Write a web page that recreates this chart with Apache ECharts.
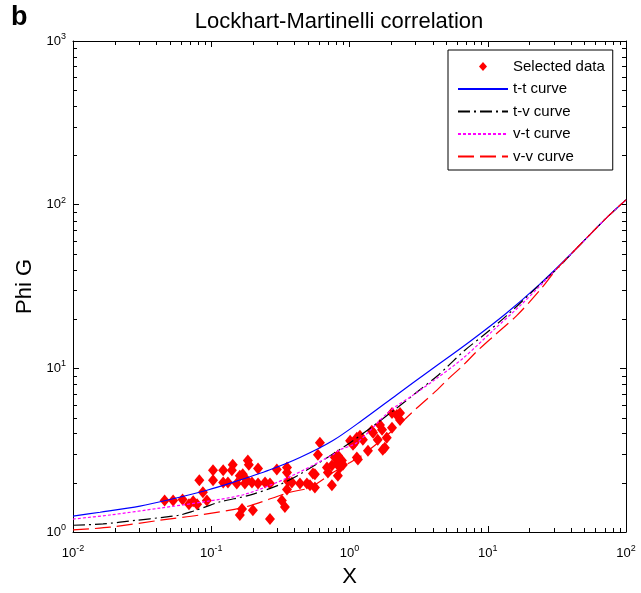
<!DOCTYPE html>
<html>
<head>
<meta charset="utf-8">
<title>Lockhart-Martinelli correlation</title>
<script src="https://cdn.jsdelivr.net/npm/echarts@6/dist/echarts.min.js"></script>
<style>
  html, body { margin: 0; padding: 0; background: #ffffff; }
  #chart { width: 641px; height: 593px; }
</style>
</head>
<body>
<div id="chart"></div>
<script>
// Axis ranges (log scales)
const xRange = [0.01, 100];
const yRange = [1, 1000];

// Measured two-phase points [X, Phi G]
const selectedData = [
  [0.046, 1.56], [0.053, 1.56], [0.062, 1.58], [0.074, 1.54], [0.069, 1.48],
  [0.079, 1.48], [0.082, 2.07], [0.087, 1.75], [0.093, 1.56], [0.103, 2.38],
  [0.103, 2.07], [0.122, 2.38], [0.122, 2.01], [0.143, 2.58], [0.141, 2.38],
  [0.132, 2.01], [0.153, 1.98], [0.169, 2.25], [0.161, 2.21], [0.184, 2.73],
  [0.187, 2.58], [0.175, 1.98], [0.197, 2.01], [0.181, 2.07], [0.218, 2.44],
  [0.218, 1.98], [0.245, 2.01], [0.266, 1.98], [0.298, 2.41], [0.353, 2.48],
  [0.353, 2.31], [0.359, 2.04], [0.383, 2.01], [0.353, 1.82], [0.324, 1.56],
  [0.341, 1.42], [0.167, 1.38], [0.161, 1.27], [0.200, 1.36], [0.266, 1.20],
  [0.438, 1.98], [0.492, 1.98], [0.518, 1.93], [0.562, 1.87], [0.544, 2.28],
  [0.562, 2.25], [0.591, 2.97], [0.611, 3.51], [0.687, 2.48], [0.746, 1.93],
  [0.698, 2.31], [0.746, 2.55], [0.811, 2.62], [0.784, 2.85], [0.824, 2.93],
  [0.881, 2.73], [0.853, 2.48], [0.896, 2.58], [0.824, 2.21], [1.01, 3.61],
  [1.06, 3.41], [1.13, 2.85], [1.19, 3.87], [1.36, 3.14], [1.48, 4.04],
  [1.60, 3.66], [1.72, 4.21], [1.86, 3.76], [1.80, 3.27], [1.45, 4.15],
  [2.03, 4.33], [2.20, 5.19], [2.32, 4.84], [2.32, 5.34], [2.03, 5.34],
  [1.66, 4.51], [1.13, 3.76], [1.25, 3.66], [1.09, 3.51], [1.15, 2.77],
  [1.74, 3.18]
];

// Correlation curves [X, Phi G]
const ttCurve = [
  [0.01, 1.25], [0.0157, 1.32], [0.0305, 1.44], [0.0503, 1.58], [0.0931, 1.80],
  [0.143, 2.01], [0.266, 2.40], [0.438, 2.85], [0.759, 3.62], [1.25, 4.85],
  [2.20, 6.9], [3.82, 9.7], [7.43, 14.6], [13.7, 21.8], [23.8, 32.7],
  [41.2, 51.2], [72.6, 83.4], [100, 107]
];
const tvCurve = [
  [0.01, 1.10], [0.0165, 1.12], [0.029, 1.18], [0.0448, 1.23], [0.0594, 1.27],
  [0.0738, 1.34], [0.09, 1.42], [0.116, 1.53], [0.19, 1.68], [0.314, 1.95],
  [0.46, 2.31], [1.01, 3.51], [2.20, 5.72], [3.23, 7.4], [4.29, 8.95],
  [5.14, 10.3], [6.83, 12.9], [9.22, 15.8], [13.7, 21.0], [23.8, 32.5],
  [33.2, 42.1], [41.2, 51.2], [72.6, 83.4], [100, 107]
];
const vtCurve = [
  [0.01, 1.20], [0.0185, 1.27], [0.0426, 1.40], [0.0931, 1.54], [0.175, 1.70],
  [0.359, 2.15], [0.759, 2.97], [0.853, 3.18], [1.13, 3.51], [1.96, 5.49],
  [2.88, 6.86], [4.29, 8.70], [6.61, 11.5], [10.9, 17.0], [17.1, 24.1],
  [23.8, 31.8], [41.2, 51.2], [72.6, 83.4], [100, 107]
];
const vvCurve = [
  [0.01, 1.03], [0.0185, 1.07], [0.0426, 1.18], [0.0828, 1.27], [0.175, 1.42],
  [0.371, 1.75], [0.518, 1.87], [0.759, 2.31], [1.01, 2.66], [1.25, 2.97],
  [1.96, 4.04], [3.07, 5.72], [4.29, 7.36], [5.06, 8.46], [6.61, 10.4],
  [8.34, 12.7], [10.9, 15.6], [16.2, 21.0], [23.8, 30.0], [31.6, 40.5],
  [41.2, 51.2], [72.6, 83.4], [100, 107]
];

const seriesNames = ['Selected data', 't-t curve', 't-v curve', 'v-t curve', 'v-v curve'];

const FONT = '"Liberation Sans", Arial, Helvetica, sans-serif';

// Minor ticks at 2..9 within each decade of a log range
function minorValues(range) {
  const out = [];
  const e0 = Math.round(Math.log10(range[0]));
  const e1 = Math.round(Math.log10(range[1]));
  for (let e = e0; e < e1; e++) {
    for (let k = 2; k <= 9; k++) out.push(k * Math.pow(10, e));
  }
  return out;
}
const xMinor = minorValues(xRange);
const yMinor = minorValues(yRange);

function powerLabel(v) {
  const e = Math.round(Math.log10(v));
  return '{b|10}{s|' + e + '}';
}
const powerRich = {
  b: { fontFamily: FONT, fontSize: 13, color: '#000', lineHeight: 18 },
  s: { fontFamily: FONT, fontSize: 9, color: '#000', verticalAlign: 'top', lineHeight: 10 }
};

// Small diamond centred in a 50x10 legend slot (the corner moves fix the box size)
const legendDiamond = 'path://M0,0M50,10M25,0.5L29,5L25,9.5L21,5Z';
// Line-only legend entries: the point marker is hidden
const hiddenMarker = { opacity: 0 };

const chart = echarts.init(document.getElementById('chart'), null, { renderer: 'canvas' });

function lineSeries(name, data, color, dash) {
  return {
    name: name,
    type: 'line',
    data: data,
    showSymbol: false,
    symbol: 'none',
    smooth: 0.3,
    lineStyle: { color: color, width: 1.2, type: dash },
    itemStyle: { color: color },
    z: 3
  };
}

const option = {
  backgroundColor: '#ffffff',
  animation: false,
  textStyle: { fontFamily: FONT },
  title: {
    text: 'Lockhart-Martinelli correlation',
    left: 334,
    top: 6,
    textAlign: 'center',
    textStyle: { fontFamily: FONT, fontSize: 22, fontWeight: 'normal', color: '#000' }
  },
  graphic: [
    {
      type: 'text',
      left: 11,
      top: 4,
      style: { text: 'b', fontFamily: FONT, fontSize: 27, fontWeight: 'bold', fill: '#000' }
    }
  ],
  grid: { left: 73, right: 15, top: 41, bottom: 58, containLabel: false },
  legend: {
    orient: 'vertical',
    left: 448,
    top: 50,
    data: [
      { name: 'Selected data', icon: legendDiamond },
      { name: 't-t curve', itemStyle: hiddenMarker },
      { name: 't-v curve', itemStyle: hiddenMarker },
      { name: 'v-t curve', itemStyle: hiddenMarker },
      { name: 'v-v curve', itemStyle: hiddenMarker }
    ],
    itemWidth: 50,
    itemHeight: 10,
    itemGap: 7.5,
    selectedMode: false,
    padding: [9, 8, 6, 9],
    backgroundColor: '#ffffff',
    borderColor: '#000000',
    borderWidth: 1,
    textStyle: { fontFamily: FONT, fontSize: 15, color: '#000' }
  },
  xAxis: [
    {
      type: 'log', logBase: 10, min: xRange[0], max: xRange[1],
      name: 'X', nameLocation: 'middle', nameGap: 34,
      nameTextStyle: { fontFamily: FONT, fontSize: 22, color: '#000' },
      axisLine: { show: true, onZero: false, lineStyle: { color: '#000', width: 1 } },
      axisTick: { show: true, inside: true, length: 6, lineStyle: { color: '#000' } },
      axisLabel: { show: true, margin: 12, formatter: powerLabel, rich: powerRich },
      splitLine: { show: false }
    },
    {
      type: 'log', logBase: 10, min: xRange[0], max: xRange[1], position: 'top',
      axisLine: { show: true, onZero: false, lineStyle: { color: '#000', width: 1 } },
      axisTick: { show: true, inside: true, length: 6, lineStyle: { color: '#000' } },
      axisLabel: { show: false },
      splitLine: { show: false }
    }
  ],
  yAxis: [
    {
      type: 'log', logBase: 10, min: yRange[0], max: yRange[1],
      name: 'Phi G', nameLocation: 'middle', nameGap: 32, nameRotate: 90,
      nameTextStyle: { fontFamily: FONT, fontSize: 22, color: '#000' },
      axisLine: { show: true, onZero: false, lineStyle: { color: '#000', width: 1 } },
      axisTick: { show: true, inside: true, length: 6, lineStyle: { color: '#000' } },
      axisLabel: { show: true, margin: 7, formatter: powerLabel, rich: powerRich },
      splitLine: { show: false }
    },
    {
      type: 'log', logBase: 10, min: yRange[0], max: yRange[1], position: 'right',
      axisLine: { show: true, onZero: false, lineStyle: { color: '#000', width: 1 } },
      axisTick: { show: true, inside: true, length: 6, lineStyle: { color: '#000' } },
      axisLabel: { show: false },
      splitLine: { show: false }
    }
  ],
  series: [
    {
      name: seriesNames[0],
      type: 'scatter',
      data: selectedData,
      symbol: 'diamond',
      symbolSize: [10, 12],
      itemStyle: { color: '#ff0000', opacity: 1 },
      z: 2
    },
    lineSeries(seriesNames[1], ttCurve, '#0000ff', 'solid'),
    lineSeries(seriesNames[2], tvCurve, '#000000', [12, 4, 2, 4]),
    lineSeries(seriesNames[3], vtCurve, '#ff00ff', [3, 2]),
    lineSeries(seriesNames[4], vvCurve, '#ff0000', [16, 6]),
    {
      // minor log ticks on all four sides of the frame
      type: 'custom',
      name: 'minorTicks',
      silent: true,
      clip: false,
      z: 5,
      data: [[xRange[0], yRange[0]]],
      renderItem: function (params, api) {
        const children = [];
        const st = { stroke: '#000', lineWidth: 1 };
        const len = 4;
        xMinor.forEach(function (v) {
          const b = api.coord([v, yRange[0]]);
          const t = api.coord([v, yRange[1]]);
          const x = Math.round(b[0]) + 0.5;
          children.push({ type: 'line', shape: { x1: x, y1: b[1], x2: x, y2: b[1] - len }, style: st });
          children.push({ type: 'line', shape: { x1: x, y1: t[1], x2: x, y2: t[1] + len }, style: st });
        });
        yMinor.forEach(function (v) {
          const l = api.coord([xRange[0], v]);
          const r = api.coord([xRange[1], v]);
          const y = Math.round(l[1]) + 0.5;
          children.push({ type: 'line', shape: { x1: l[0], y1: y, x2: l[0] + len, y2: y }, style: st });
          children.push({ type: 'line', shape: { x1: r[0], y1: y, x2: r[0] - len, y2: y }, style: st });
        });
        return { type: 'group', children: children };
      }
    }
  ]
};

chart.setOption(option);
</script>
</body>
</html>
